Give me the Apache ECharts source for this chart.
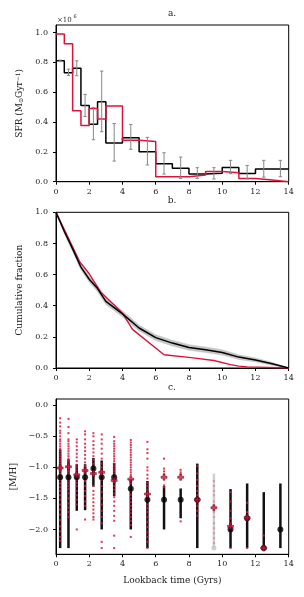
<!DOCTYPE html>
<html><head><meta charset="utf-8">
<script src="https://cdn.jsdelivr.net/npm/echarts@6/dist/echarts.min.js"></script>
<style>html,body{margin:0;padding:0;background:#fff}#c{width:304px;height:597px}</style>
</head><body><div id="c"></div>
<script>
// ---------- Panel a: SFR histogram ----------
const sfrEdges = [0,0.5,1,1.5,2,2.5,3,4,5,6,7,8,9,10,11,12,13,14];
const sfrBlack = [0.81,0.73,0.76,0.51,0.385,0.535,0.26,0.295,0.20,0.12,0.09,0.052,0.057,0.095,0.055,0.085,0.085];
const sfrRed   = [0.99,0.925,0.475,0.377,0.49,0.42,0.507,0.278,0.27,0.033,0.033,0.045,0.069,0.06,0.022,0.011,0];
const sfrErrX  = [0.25,0.75,1.25,1.75,2.25,2.75,3.5,4.5,5.5,6.5,7.5,8.5,9.5,10.5,11.5,12.5,13.5];
const sfrErrLo = [0.805,0.712,0.71,0.437,0.281,0.335,0.138,0.217,0.112,0.051,0.022,0.022,0.018,0.054,0.018,0.031,0.033];
const sfrErrHi = [0.815,0.754,0.81,0.585,0.498,0.741,0.39,0.384,0.297,0.194,0.165,0.094,0.094,0.143,0.109,0.143,0.143];
const sfrTicks = [0,0.2,0.4,0.6,0.8,1.0];

// ---------- Panel b: cumulative fraction ----------
const cumT      = [0,0.5,1,1.5,2,2.5,3,4,5,6,7,8,9,10,11,12,13,14];
const cumBlack  = [1,0.877,0.765,0.648,0.57,0.51,0.428,0.348,0.257,0.195,0.16,0.132,0.117,0.1,0.07,0.052,0.027,0];
const cumBandLo = [1,0.862,0.748,0.630,0.551,0.490,0.408,0.328,0.238,0.176,0.141,0.114,0.099,0.083,0.055,0.039,0.017,0];
const cumBandHi = [1,0.890,0.782,0.666,0.589,0.530,0.448,0.368,0.276,0.214,0.179,0.150,0.135,0.117,0.085,0.065,0.037,0];
const cumRedT   = [0,1.42,2,2.7,3.5,4,4.6,6.5,8,9.5,10.5,11,11.5,14];
const cumRed    = [1,0.683,0.605,0.486,0.405,0.352,0.248,0.085,0.068,0.048,0.022,0.012,0.007,0];

// ---------- Panel c: metallicity ----------
const metX     = [0.25,0.75,1.25,1.75,2.25,2.75,3.5,4.5,5.5,6.5,7.5,8.5,10.5,11.5,12.5,13.5];
const metBlack = [-1.16,-1.16,-1.16,-1.16,-1.02,-1.16,-1.16,-1.345,-1.52,-1.52,-1.52,-1.52,-2.0,-1.82,-2.30,-2.0];
const metLo    = [-2.3,-2.3,-1.7,-1.69,-1.31,-2.0,-1.46,-2.0,-2.3,-2.0,-1.82,-2.3,-2.3,-2.3,-2.3,-2.3];
const metHi    = [-0.71,-0.87,-0.95,-0.95,-0.85,-0.89,-0.93,-1.19,-1.22,-1.30,-1.34,-0.94,-1.35,-1.26,-1.40,-1.26];
const metGrayX = [9.5], metGray = [-2.30], metGrayLo = [-2.3], metGrayHi = [-1.10];
const metRedX  = [0.25,0.75,1.25,1.75,2.25,2.75,3.5,4.5,5.5,6.5,7.5,8.5,9.5,10.5,11.5,12.5];
const metRed   = [-1.01,-0.99,-1.12,-1.05,-1.10,-1.08,-1.21,-1.19,-1.43,-1.16,-1.16,-1.52,-1.65,-1.95,-1.81,-2.30];
const dots_0_25 = [-0.21,-0.28,-0.34,-0.41,-0.45,-0.5,-0.55,-0.58,-0.62,-0.66,-0.7,-0.74,-0.78,-0.82,-0.86,-0.9,-0.94,-0.98,-1.02,-1.06,-1.1,-1.14,-1.2,-1.26,-1.32,-1.38,-1.45,-1.52,-1.6,-1.68,-1.76,-1.85,-1.95,-2.03,-2.12,-2.18];
const dots_0_75 = [-0.22,-0.35,-0.45,-0.55,-0.58,-0.62,-0.66,-0.7,-0.74,-0.78,-0.82,-0.86,-0.9,-0.94,-0.98,-1.02,-1.06,-1.1,-1.15,-1.2,-1.25,-1.3,-1.35,-1.42,-1.5,-1.58,-1.65,-1.72,-1.8];
const dots_1_25 = [-0.55,-0.6,-0.66,-0.72,-0.78,-0.84,-0.9,-0.96,-1.0,-1.05,-1.1,-1.15,-1.2,-1.25,-1.3,-1.38,-1.45,-1.52,-1.6,-2.0];
const dots_1_75 = [-0.42,-0.47,-0.55,-0.62,-0.68,-0.74,-0.8,-0.86,-0.92,-0.98,-1.04,-1.1,-1.16,-1.22,-1.3,-1.38,-1.46,-1.55,-1.62,-1.84];
const dots_2_25 = [-0.45,-0.5,-0.58,-0.64,-0.7,-0.76,-0.82,-0.88,-0.94,-1.0,-1.06,-1.12,-1.3,-1.38,-1.44,-1.5,-1.56,-1.62,-1.68,-1.74,-1.8,-1.84];
const dots_2_75 = [-0.47,-0.55,-0.62,-0.7,-0.78,-0.86,-0.94,-1.0,-1.06,-1.12,-1.2,-1.3,-1.4,-1.5,-1.6,-1.7,-1.8,-1.9,-2.2,-2.3];
const dots_3_5  = [-0.51,-0.58,-0.62,-0.66,-0.7,-0.74,-0.78,-0.82,-0.86,-0.9,-0.94,-0.98,-1.02,-1.06,-1.1,-1.14,-1.18,-1.24,-1.3,-1.36,-1.42,-1.48,-1.55,-1.62,-1.7,-1.78,-1.86,-2.1,-2.3];
const dots_4_5  = [-0.56,-0.6,-0.64,-0.68,-0.72,-0.76,-0.8,-0.84,-0.88,-0.92,-0.96,-1.0,-1.04,-1.08,-1.12,-1.26,-1.32,-1.38,-1.44,-1.5,-1.56,-1.62,-1.68,-1.74,-1.8,-1.86,-1.93,-2.12];
const dots_5_5  = [-0.59,-0.71,-0.77,-0.86,-1.0,-1.05,-1.12,-1.18,-1.25,-1.3,-1.36,-1.42,-1.48,-1.54,-1.6,-1.66,-1.72,-1.8,-1.88,-1.96,-2.05,-2.12,-2.2,-2.3];
const dots_6_5  = [-0.86,-1.02,-1.065,-1.11,-1.29,-1.32];
const dots_7_5  = [-1.04,-1.08,-1.11,-1.87];
const dots_8_5  = [-0.98,-1.1,-1.2,-1.3,-1.38,-1.45,-1.55,-1.62,-1.7,-1.78];
const dots_9_5  = [-1.22,-1.3,-1.38,-1.45,-1.55,-1.62,-1.72,-1.8,-1.9,-1.98,-2.06,-2.14,-2.22];
const dots_10_5 = [-1.4,-1.55,-1.7,-1.82,-1.9,-2.3];
const dots_11_5 = [-1.57,-1.72,-2.3];
const dots_12_5 = [-2.1,-2.3];
const metTicks = [-2,-1.5,-1,-0.5,0];

const xTitle = 'Lookback time (Gyrs)';
const RED = '#dc143c';
const FF = 'DejaVu Serif';

const dotBins = [[0.25,dots_0_25],[0.75,dots_0_75],[1.25,dots_1_25],[1.75,dots_1_75],[2.25,dots_2_25],[2.75,dots_2_75],[3.5,dots_3_5],[4.5,dots_4_5],[5.5,dots_5_5],[6.5,dots_6_5],[7.5,dots_7_5],[8.5,dots_8_5],[10.5,dots_10_5],[11.5,dots_11_5],[12.5,dots_12_5]];
const dotData = [];
dotBins.forEach(([x, arr]) => arr.forEach(v => dotData.push([x, v])));
const dotFaint = dots_9_5.map(v => [9.5, v]);

function stepData(edges, vals) {
  const d = vals.map((v, i) => [edges[i], v]);
  d.push([edges[edges.length - 1], vals[vals.length - 1]]);
  return d;
}
const fmt = v => (v < 0 ? '\u2212' : '') + Math.abs(v).toFixed(1);
const tickLabel = {fontFamily: FF, fontSize: 8, color: '#222', margin: 8, formatter: fmt};

function xAx(gi, name) {
  return {
    type: 'value', gridIndex: gi, min: 0, max: 14, interval: 2,
    axisLine: {onZero: false, lineStyle: {color: '#000', width: 1}},
    axisTick: {show: true, length: 3, lineStyle: {color: '#000'}},
    axisLabel: {fontFamily: FF, fontSize: 8, color: '#222', margin: 6, formatter: v => String(v)},
    splitLine: {show: false},
    name: name || '', nameLocation: 'middle', nameGap: 22,
    nameTextStyle: {fontFamily: FF, fontSize: 9, color: '#222'}
  };
}
function yAx(gi, min, max, ticks, name, gap, rich) {
  return {
    type: 'value', gridIndex: gi, min: min, max: max,
    axisLine: {onZero: false, lineStyle: {color: '#000', width: 1}},
    axisTick: {show: true, length: 3, lineStyle: {color: '#000'}, customValues: ticks},
    axisLabel: Object.assign({customValues: ticks}, tickLabel),
    splitLine: {show: false},
    name: name, nameLocation: 'middle', nameGap: gap, nameRotate: 90,
    nameTextStyle: Object.assign({fontFamily: FF, fontSize: 9, color: '#222'}, rich ? {rich: rich} : {})
  };
}

function errItem(color, width, cap) {
  return function (params, api) {
    const x = api.value(0), lo = api.value(1), hi = api.value(2);
    const p1 = api.coord([x, lo]), p2 = api.coord([x, hi]);
    const st = {stroke: color, lineWidth: width};
    const ch = [{type: 'line', shape: {x1: p1[0], y1: p1[1], x2: p2[0], y2: p2[1]}, style: st}];
    if (cap > 0) {
      ch.push({type: 'line', shape: {x1: p1[0] - cap, y1: p1[1], x2: p1[0] + cap, y2: p1[1]}, style: st});
      ch.push({type: 'line', shape: {x1: p2[0] - cap, y1: p2[1], x2: p2[0] + cap, y2: p2[1]}, style: st});
    }
    return {type: 'group', children: ch};
  };
}

// band polygon built from band arrays through the axis scales
function bandItem(params, api) {
  const pts = [];
  for (let i = 0; i < cumT.length; i++) pts.push(api.coord([cumT[i], cumBandHi[i]]));
  for (let i = cumT.length - 1; i >= 0; i--) pts.push(api.coord([cumT[i], cumBandLo[i]]));
  return {type: 'polygon', shape: {points: pts}, style: {fill: '#c4c4c4', stroke: '#c4c4c4', lineWidth: 0.5}};
}

const gridBase = {left: 56, width: 232.7, show: true, borderColor: '#000', borderWidth: 1, backgroundColor: 'transparent'};
const PLUS = 'path://M1,0H2V1H3V2H2V3H1V2H0V1H1Z';

const option = {
  animation: false,
  backgroundColor: '#fff',
  grid: [
    Object.assign({top: 25, height: 156.7}, gridBase),
    Object.assign({top: 212.3, height: 155.7}, gridBase),
    Object.assign({top: 399, height: 155.3}, gridBase)
  ],
  xAxis: [xAx(0), xAx(1), xAx(2, xTitle)],
  yAxis: [
    yAx(0, 0, 1.05, sfrTicks, 'SFR (M{s|\u2299}Gyr{p|\u22121})', 29,
        {s: {fontFamily: FF, fontSize: 6, verticalAlign: 'bottom', lineHeight: 9}, p: {fontFamily: FF, fontSize: 6, verticalAlign: 'top', lineHeight: 9}}),
    yAx(1, 0, 1, sfrTicks, 'Cumulative fraction', 29),
    yAx(2, -2.4, 0.1, metTicks, '[M/H]', 36)
  ],
  graphic: [
    {type: 'text', x: 172, y: 14, style: {text: 'a.', font: '9px "DejaVu Serif"', fill: '#222', align: 'center', verticalAlign: 'middle'}},
    {type: 'text', x: 172, y: 201, style: {text: 'b.', font: '9px "DejaVu Serif"', fill: '#222', align: 'center', verticalAlign: 'middle'}},
    {type: 'text', x: 172, y: 388, style: {text: 'c.', font: '9px "DejaVu Serif"', fill: '#222', align: 'center', verticalAlign: 'middle'}},
    {type: 'text', x: 57, y: 20, style: {text: '\u00d710', font: '7px "DejaVu Serif"', fill: '#333', align: 'left', verticalAlign: 'middle'}},
    {type: 'text', x: 73.5, y: 17, style: {text: '6', font: '5px "DejaVu Serif"', fill: '#333', align: 'left', verticalAlign: 'middle'}}
  ],
  series: [
    // panel a
    {type: 'line', xAxisIndex: 0, yAxisIndex: 0, step: 'end', data: stepData(sfrEdges, sfrBlack), symbol: 'none',
     lineStyle: {color: '#000', width: 1.5}, z: 3},
    {type: 'line', xAxisIndex: 0, yAxisIndex: 0, step: 'end', data: stepData(sfrEdges, sfrRed), symbol: 'none',
     lineStyle: {color: RED, width: 1.5}, z: 4},
    {type: 'custom', xAxisIndex: 0, yAxisIndex: 0, renderItem: errItem('#888', 1, 1.7),
     data: sfrErrX.map((x, i) => [x, sfrErrLo[i], sfrErrHi[i]]), encode: {x: 0, y: [1, 2]}, z: 5},
    // panel b
    {type: 'custom', xAxisIndex: 1, yAxisIndex: 1, renderItem: bandItem, data: [[cumT[0], cumBandLo[0]]], encode: {x: 0, y: 1}, z: 2, silent: true},
    {type: 'line', xAxisIndex: 1, yAxisIndex: 1, data: cumRedT.map((t, i) => [t, cumRed[i]]), symbol: 'none',
     lineStyle: {color: RED, width: 1.4}, z: 3},
    {type: 'line', xAxisIndex: 1, yAxisIndex: 1, data: cumT.map((t, i) => [t, cumBlack[i]]), symbol: 'none',
     lineStyle: {color: '#000', width: 1.5}, z: 4},
    // panel c
    {type: 'custom', xAxisIndex: 2, yAxisIndex: 2, renderItem: errItem('#cfcfcf', 2.5, 0),
     data: metGrayX.map((x, i) => [x, metGrayLo[i], metGrayHi[i]]), encode: {x: 0, y: [1, 2]}, z: 2},
    {type: 'scatter', xAxisIndex: 2, yAxisIndex: 2, data: metGrayX.map((x, i) => [x, metGray[i]]), symbol: 'circle', symbolSize: 5,
     itemStyle: {color: '#c4c4c4'}, z: 2},
    {type: 'custom', xAxisIndex: 2, yAxisIndex: 2, renderItem: errItem('#111', 2.5, 0),
     data: metX.map((x, i) => [x, metLo[i], metHi[i]]), encode: {x: 0, y: [1, 2]}, z: 3},
    {type: 'scatter', xAxisIndex: 2, yAxisIndex: 2, data: dotFaint, symbol: 'rect', symbolSize: 2,
     itemStyle: {color: RED, opacity: 0.3}, z: 4},
    {type: 'scatter', xAxisIndex: 2, yAxisIndex: 2, data: dotData, symbol: 'rect', symbolSize: 2,
     itemStyle: {color: RED, opacity: 0.85}, z: 4},
    {type: 'scatter', xAxisIndex: 2, yAxisIndex: 2, data: metX.map((x, i) => [x, metBlack[i]]), symbol: 'circle', symbolSize: 6,
     itemStyle: {color: '#000'}, z: 5},
    {type: 'scatter', xAxisIndex: 2, yAxisIndex: 2, data: metRedX.map((x, i) => [x, metRed[i]]), symbol: PLUS, symbolSize: 6,
     itemStyle: {color: RED, borderColor: '#5a0010', borderWidth: 0.6}, z: 6}
  ]
};
const chart = echarts.init(document.getElementById('c'), null, {renderer: 'canvas'});
chart.setOption(option);
</script></body></html>
